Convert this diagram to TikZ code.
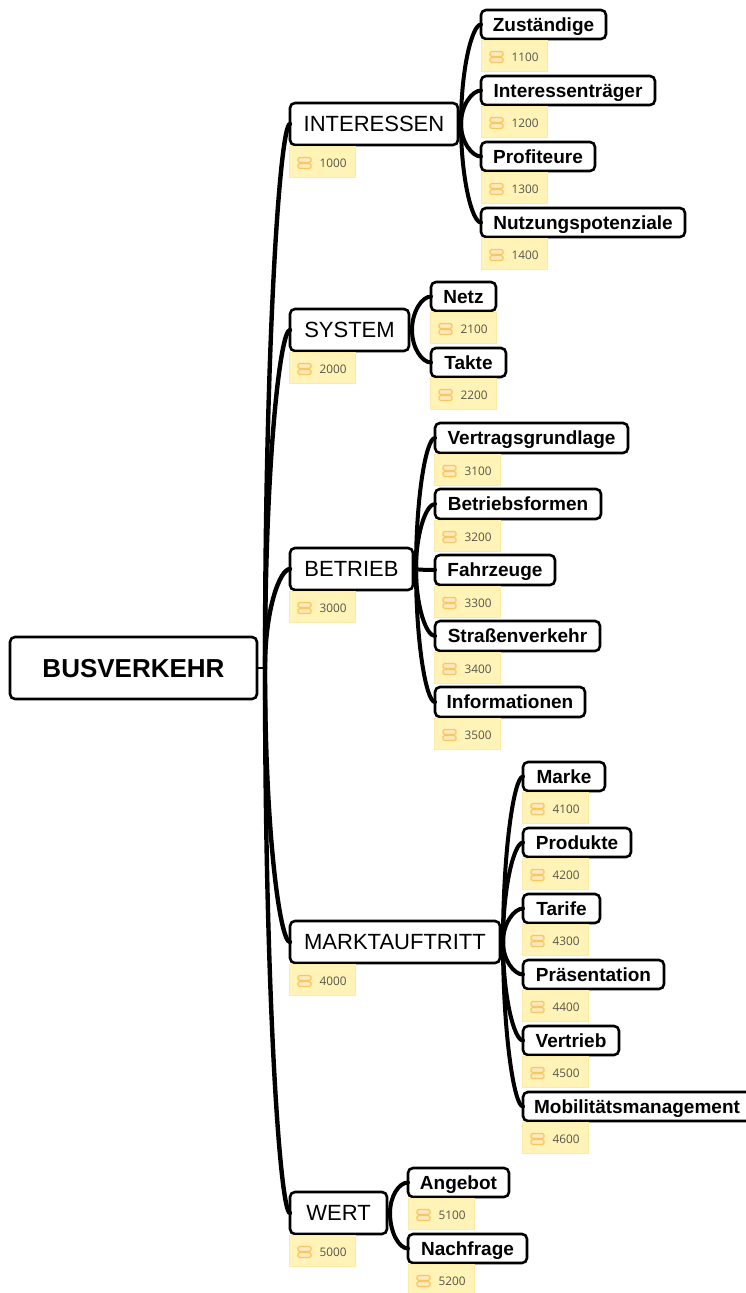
\documentclass[tikz,border=0pt]{standalone}
\usetikzlibrary{calc}
\usepackage{fontspec}
\setmainfont{Liberation Sans}
\newfontfamily\tagfont{Open Sans}
\definecolor{tagfill}{HTML}{FFF3B8}
\definecolor{tagline}{HTML}{FCEBA6}
\definecolor{iconline}{HTML}{F9C75E}
\definecolor{iconfill}{HTML}{FCE9C0}
\definecolor{tagtext}{HTML}{55554A}
\tikzset{
 mmbox/.style={draw=black,fill=white,line width=2.6pt,rounded corners=5pt,inner sep=0pt,outer sep=0pt,text=black,text depth=0pt},
 rootbox/.style={mmbox,text height=18.6pt,font=\fontsize{26}{28}\selectfont\bfseries},
 mainbox/.style={mmbox,text height=15.8pt,font=\fontsize{22}{24}\selectfont},
 leafbox/.style={mmbox,text height=13.6pt,font=\fontsize{19}{22}\selectfont\bfseries},
 tagbox/.style={draw=tagline,fill=tagfill,line width=1pt,inner sep=0pt,outer sep=0pt,minimum width=66pt,minimum height=31pt,anchor=north west,text=tagtext,text height=8.4pt,text depth=0pt,font=\tagfont\fontsize{11.8}{13}\selectfont},
 iconbar/.style={draw=iconline,fill=iconfill,line width=1.3pt,rounded corners=1.5pt},
 link/.style={draw=black,line width=4pt,line cap=round},
 rootlink/.style={draw=black,line width=4.4pt,line cap=round},
 stublink/.style={draw=black,line width=2.6pt}
}
\newcommand\mm[7]{\node[#1,minimum width={(#4-#3)*1pt},minimum height={(#6-#5)*1pt}] (#2) at ({(#3+#4)/2},{(#5+#6)/2}) {#7};}
\newcommand\tg[3]{\node[tagbox] (t#3) at (#1,#2) {\hspace*{22pt}\smash{\raisebox{-2pt}{#3}}};
 \begin{scope}[shift={(t#3.west)}]
 \draw[iconbar] (9,-4) rectangle (22,1);
 \draw[iconbar] (9,2) rectangle (22,7);
 \end{scope}}
\newcommand\lk[2]{\draw[stublink] (#1.east) -- ++(3,0) coordinate (h);
 \draw[link] (h) .. controls ($(h)!.55!(h |- #2.west)$) and ($(#2.west)+(-9,0)$) .. (#2.west);}
\newcommand\rk[2]{\draw[stublink] (#1.east) -- ++(8,0) coordinate (h);
 \draw[rootlink] (h) .. controls ($(h)!.6!(h |- #2.west)$) and ($(#2.west)+(-10,0)$) .. (#2.west);}
\begin{document}
\begin{tikzpicture}[x=1pt,y=-1pt]
\useasboundingbox (0,0) rectangle (745,1293);
\mm{rootbox}{root}{10}{257}{637}{699}{BUSVERKEHR}
\mm{mainbox}{a1}{290}{458}{103}{145}{INTERESSEN}
\mm{mainbox}{a2}{290}{409}{309}{351}{SYSTEM}
\mm{mainbox}{a3}{290}{413}{548}{590}{BETRIEB}
\mm{mainbox}{a4}{290}{500}{921}{963}{MARKTAUFTRITT}
\mm{mainbox}{a5}{290}{387}{1192}{1234}{WERT}
\tg{289}{146}{1000}\tg{289}{352}{2000}\tg{289}{591}{3000}\tg{289}{964}{4000}\tg{289}{1235}{5000}
\mm{leafbox}{b11}{481}{606}{10}{39}{Zuständige}
\mm{leafbox}{b12}{481}{655}{76}{105}{Interessenträger}
\mm{leafbox}{b13}{481}{595}{142}{171}{Profiteure}
\mm{leafbox}{b14}{481}{685}{208}{237}{Nutzungspotenziale}
\tg{481}{40}{1100}\tg{481}{106}{1200}\tg{481}{172}{1300}\tg{481}{238}{1400}
\mm{leafbox}{b21}{431}{496}{282}{311}{Netz}
\mm{leafbox}{b22}{431}{506}{348}{377}{Takte}
\tg{430}{312}{2100}\tg{430}{378}{2200}
\mm{leafbox}{b31}{435}{628}{423}{453}{Vertragsgrundlage}
\mm{leafbox}{b32}{435}{601}{489}{519}{Betriebsformen}
\mm{leafbox}{b33}{435}{555}{555}{585}{Fahrzeuge}
\mm{leafbox}{b34}{435}{600}{621}{651}{Straßenverkehr}
\mm{leafbox}{b35}{435}{585}{687}{717}{Informationen}
\tg{434}{454}{3100}\tg{434}{520}{3200}\tg{434}{586}{3300}\tg{434}{652}{3400}\tg{434}{718}{3500}
\mm{leafbox}{b41}{523}{605}{762}{791}{Marke}
\mm{leafbox}{b42}{523}{631}{828}{857}{Produkte}
\mm{leafbox}{b43}{523}{600}{894}{923}{Tarife}
\mm{leafbox}{b44}{523}{664}{960}{989}{Präsentation}
\mm{leafbox}{b45}{523}{619}{1026}{1055}{Vertrieb}
\mm{leafbox}{b46}{523}{751}{1092}{1121}{Mobilitätsmanagement}
\tg{522}{792}{4100}\tg{522}{858}{4200}\tg{522}{924}{4300}\tg{522}{990}{4400}\tg{522}{1056}{4500}\tg{522}{1122}{4600}
\mm{leafbox}{b51}{408}{509}{1168}{1197}{Angebot}
\mm{leafbox}{b52}{408}{527}{1234}{1263}{Nachfrage}
\tg{408}{1198}{5100}\tg{408}{1264}{5200}
\rk{root}{a1}\rk{root}{a2}\rk{root}{a3}\rk{root}{a4}\rk{root}{a5}
\lk{a1}{b11}\lk{a1}{b12}\lk{a1}{b13}\lk{a1}{b14}
\lk{a2}{b21}\lk{a2}{b22}
\lk{a3}{b31}\lk{a3}{b32}\lk{a3}{b33}\lk{a3}{b34}\lk{a3}{b35}
\lk{a4}{b41}\lk{a4}{b42}\lk{a4}{b43}\lk{a4}{b44}\lk{a4}{b45}\lk{a4}{b46}
\lk{a5}{b51}\lk{a5}{b52}
\end{tikzpicture}
\end{document}
